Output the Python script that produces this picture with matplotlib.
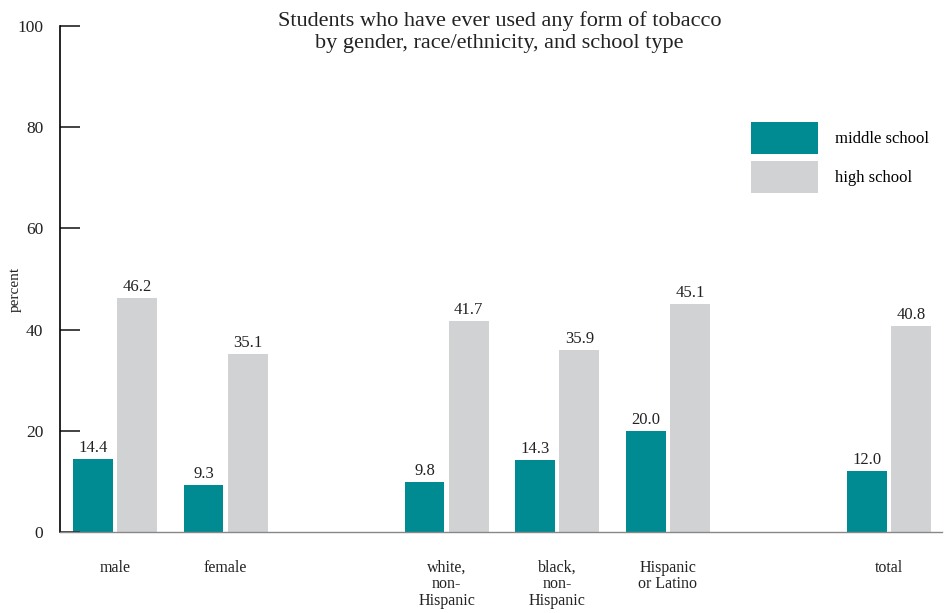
import numpy as np
import matplotlib.pyplot as plt

plt.rcParams['font.family'] = ['Liberation Serif', 'DejaVu Serif']

categories = ['male', 'female', 'white,\nnon-\nHispanic', 'black,\nnon-\nHispanic',
              'Hispanic\nor Latino', 'total']
slots = [0, 1, 3, 4, 5, 7]
middle = [14.4, 9.3, 9.8, 14.3, 20.0, 12.0]
high = [46.2, 35.1, 41.7, 35.9, 45.1, 40.8]

teal = '#008B93'
grey = '#D1D2D4'

fig = plt.figure(figsize=(9.48, 6.13), dpi=100)
ax = fig.add_axes([60/948, 81/613, 882/948, 506/613])

x = np.array(slots, dtype=float)
w = 0.36
off = 0.2
ax.bar(x - off, middle, w, color=teal, label='middle school')
ax.bar(x + off, high, w, color=grey, label='high school')

for xs, vals in ((x - off, middle), (x + off, high)):
    for xi, v in zip(xs, vals):
        ax.text(xi, v + 0.6, f'{v:.1f}', ha='center', va='bottom', fontsize=12, color='#222222')

ax.set_xlim(-0.497, 7.48)
ax.set_ylim(0, 100)
ax.set_yticks([0, 20, 40, 60, 80, 100])
ax.tick_params(axis='y', direction='in', length=14.5, width=1.2, pad=12, labelsize=12.5, colors='#222222')
ax.set_xticks(x)
ax.set_xticklabels(categories, fontsize=11.5, va='top', linespacing=1.05, color='#222222')
ax.tick_params(axis='x', length=0, pad=20)

for s in ('top', 'right'):
    ax.spines[s].set_visible(False)
ax.spines['left'].set_linewidth(1.2)
ax.spines['bottom'].set_color('#888888')
ax.spines['bottom'].set_linewidth(1.0)

ax.set_ylabel('percent', fontsize=11, color='#222222')
ax.yaxis.set_label_coords(-0.043, 0.48)

ax.legend(loc='upper left', bbox_to_anchor=(0.767, 0.839), frameon=False, fontsize=12,
          handlelength=4.0, handleheight=2.5, labelspacing=0.47, handletextpad=1.0)

fig.text(0.527, 0.982, 'Students who have ever used any form of tobacco\nby gender, race/ethnicity, and school type',
         ha='center', va='top', fontsize=16, linespacing=1.25, color='#222222')

fig.savefig('out.png', dpi=100)
